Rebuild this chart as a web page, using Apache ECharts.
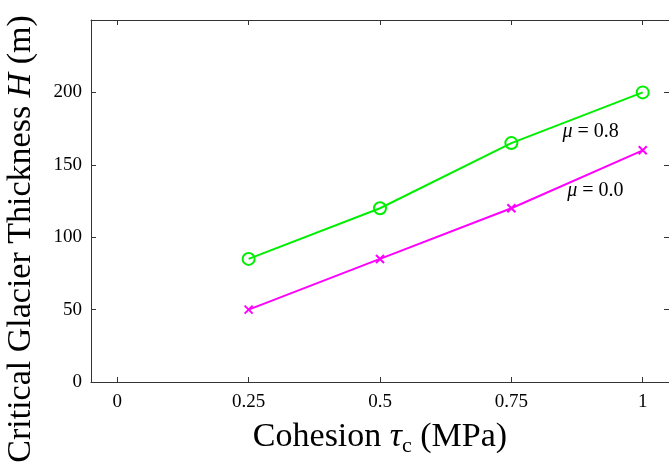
<!DOCTYPE html>
<html><head><meta charset="utf-8">
<script src="https://cdn.jsdelivr.net/npm/echarts@6/dist/echarts.min.js"></script>
<style>html,body{margin:0;padding:0;background:#fff}#c{width:669px;height:470px}</style>
</head><body><div id="c"></div>
<script>
const cohesion = [0.25, 0.5, 0.75, 1.0];
const thickMu08 = [85, 120, 165, 200];
const thickMu00 = [50, 85, 120, 160];
const xTicks = [0, 0.25, 0.5, 0.75, 1];
const yTicks = [0, 50, 100, 150, 200];
const labelMu08 = [0.901, 173];
const labelMu00 = [0.910, 132];

const FONT = '"Liberation Serif","DejaVu Serif",serif';
const axisColor = '#333';
const chart = echarts.init(document.getElementById('c'));
const pair = (xs, ys) => xs.map((x, i) => [x, ys[i]]);
const annot = (coord, txt) => ({
  coord: coord, symbol: 'circle', symbolSize: 0,
  label: { show: true, position: 'inside', formatter: '{i|μ} = ' + txt,
    fontFamily: FONT, fontSize: 20, color: '#000',
    rich: { i: { fontFamily: FONT, fontStyle: 'italic', fontSize: 20, color: '#000' } } }
});
const baseX = {
  type: 'value', min: -0.05, max: 1.05,
  splitLine: { show: false },
  axisLine: { show: true, onZero: false, lineStyle: { color: axisColor, width: 1 } },
  axisTick: { inside: true, length: 5, customValues: xTicks, lineStyle: { color: axisColor } }
};
const baseY = {
  type: 'value', min: 0, max: 250,
  splitLine: { show: false },
  axisLine: { show: true, onZero: false, lineStyle: { color: axisColor, width: 1 } },
  axisTick: { inside: true, length: 5, customValues: yTicks, lineStyle: { color: axisColor } }
};
chart.setOption({
  animation: false,
  grid: { left: 91, top: 20, right: 0, bottom: 88, containLabel: false, outerBoundsMode: 'none' },
  xAxis: [
    Object.assign({}, baseX, {
      position: 'bottom',
      axisLabel: { customValues: xTicks, fontFamily: FONT, fontSize: 19, color: '#000', margin: 11,
        formatter: v => String(v) },
      name: 'Cohesion {i|τ}{s|c} (MPa)', nameLocation: 'middle', nameGap: 38,
      nameTextStyle: { fontFamily: FONT, fontSize: 34, color: '#000', lineHeight: 40, verticalAlign: 'middle',
        rich: { i: { fontFamily: FONT, fontStyle: 'italic', fontSize: 34, color: '#000', lineHeight: 40 },
                s: { fontFamily: FONT, fontSize: 22, color: '#000', lineHeight: 22, verticalAlign: 'bottom' } } }
    }),
    Object.assign({}, baseX, { position: 'top', axisLabel: { show: false } })
  ],
  yAxis: [
    Object.assign({}, baseY, {
      position: 'left',
      axisLabel: { customValues: yTicks, fontFamily: FONT, fontSize: 19, color: '#000', margin: 9 },
      name: 'Critical Glacier Thickness {i|H} (m)', nameLocation: 'middle', nameGap: 53,
      nameTextStyle: { fontFamily: FONT, fontSize: 34, color: '#000', padding: [0, 76, 0, 0],
        rich: { i: { fontFamily: FONT, fontStyle: 'italic', fontSize: 34, color: '#000' } } }
    }),
    Object.assign({}, baseY, { position: 'right', axisLabel: { show: false } })
  ],
  series: [
    {
      type: 'line', data: pair(cohesion, thickMu08),
      lineStyle: { color: '#00ee00', width: 2 },
      symbol: 'circle', symbolSize: 12,
      itemStyle: { color: 'rgba(0,0,0,0)', borderColor: '#00ee00', borderWidth: 2 },
      markPoint: { data: [annot(labelMu08, '0.8')] }
    },
    {
      type: 'line', data: pair(cohesion, thickMu00),
      lineStyle: { color: '#ff00ff', width: 2 },
      symbol: 'path://M0,0L10,10M10,0L0,10', symbolSize: 8,
      itemStyle: { color: '#ff00ff', borderColor: '#ff00ff', borderWidth: 2 },
      markPoint: { data: [annot(labelMu00, '0.0')] }
    }
  ]
});
</script>
</body></html>
